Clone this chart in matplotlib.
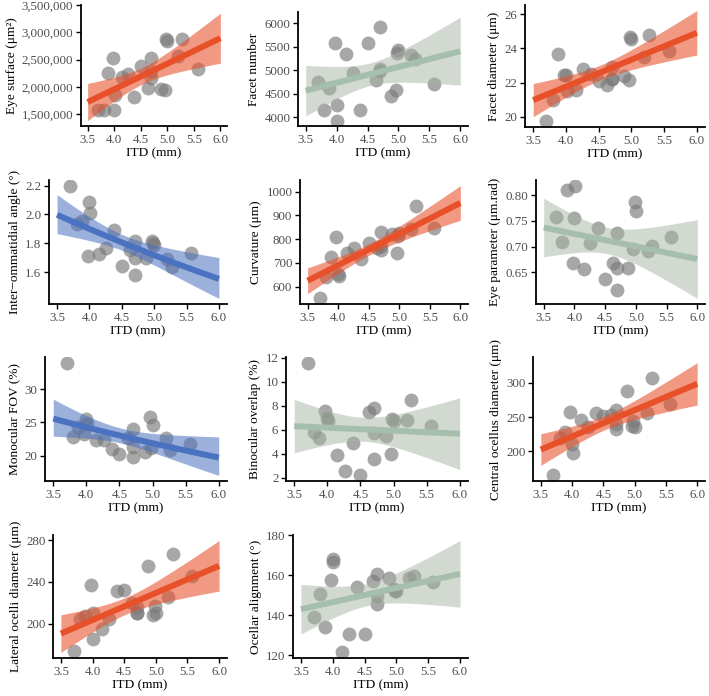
import numpy as np
import matplotlib
matplotlib.use('Agg')
import matplotlib.pyplot as plt
from matplotlib.ticker import FuncFormatter

plt.rcParams['font.family'] = ['Liberation Serif', 'DejaVu Serif']

# ITD (mm) of each specimen, shared by all panels
ITD = [3.70, 3.80, 3.88, 3.97, 4.00, 4.01, 4.15, 4.26, 4.38, 4.50, 4.63,
       4.70, 4.70, 4.70, 4.88, 4.96, 4.98, 5.00, 5.20, 5.27, 5.57]

eye_surface = [1.585e6, 1.585e6, 2.25e6, 2.53e6, 1.58e6, 1.86e6, 2.19e6, 2.24e6,
               1.81e6, 2.39e6, 1.98e6, 2.54e6, 2.16e6, 2.30e6, 1.96e6, 1.95e6,
               2.88e6, 2.85e6, 2.56e6, 2.88e6, 2.33e6]
facet_number = [4747, 4147, 4620, 5587, 4267, 3920, 5353, 4947, 4147, 5587, 4780,
                5920, 5033, 4980, 4453, 4567, 5367, 5433, 5320, 5233, 4700]
facet_diameter = [19.74, 20.98, 23.67, 22.47, 22.45, 21.5, 21.6, 22.77, 22.5, 22.07,
                  21.84, 22.2, 22.2, 22.9, 22.4, 22.13, 24.69, 24.56, 23.47, 24.77, 23.86]
io_angle = [2.20, 1.936, 1.954, 1.71, 2.088, 2.007, 1.728, 1.77, 1.89, 1.64, 1.757,
            1.817, 1.70, 1.578, 1.70, 1.817, 1.80, 1.786, 1.69, 1.634, 1.734]
curvature = [551, 640, 725, 810, 654, 647, 743, 762, 715, 785, 762,
             831, 756, 770, 820, 743, 815, 825, 842, 938, 846]
eye_parameter = [0.757, 0.709, 0.810, 0.667, 0.755, 0.819, 0.657, 0.707, 0.737, 0.637,
                 0.667, 0.727, 0.658, 0.615, 0.659, 0.695, 0.787, 0.770, 0.692, 0.701, 0.718]
monocular_fov = [34.0, 22.8, 24.3, 23.2, 25.5, 24.8, 22.3, 22.4, 21.0, 20.3, 22.6,
                 23.95, 21.3, 19.85, 20.6, 25.85, 21.1, 24.6, 22.6, 20.9, 21.7]
binocular_overlap = [11.6, 5.8, 5.3, 7.6, 7.0, 6.7, 3.9, 2.6, 4.9, 2.2, 7.5,
                     7.8, 5.7, 3.6, 5.5, 3.95, 6.9, 6.75, 6.8, 8.45, 6.35]
central_ocellus = [165, 220, 228, 258, 211, 197, 246, 236, 256, 252, 253,
                   260, 233, 240, 288, 237, 244, 235, 256, 307, 269]
lateral_ocelli = [174, 204, 207, 237, 185, 210, 195, 204, 231, 232, 220,
                  210, 210, 216, 255, 208, 217, 210, 225, 267, 246]
ocellar_alignment = [139.2, 150.8, 134.2, 157.5, 168.2, 166.7, 121.5, 130.8, 154, 130.8,
                     157, 160.8, 149.5, 145.7, 158.7, 153.3, 152, 152.3, 158.7, 159.5, 156.5]

T_CRIT = 2.093  # t(0.975, df=19)

STYLES = {
    'orange': ('#E8502A', '#E8502A', 0.58),
    'blue': ('#4A72C0', '#4A72C0', 0.55),
    'green': ('#A6BEAC', '#A4B4A4', 0.5),
}

TICK_FS = 9.3
LABEL_FS = 9.6

W, H = 709, 696
fig = plt.figure(figsize=(W / 100, H / 100), dpi=100)


def fit_band(x, y, log=False):
    xs = np.linspace(3.5, 6.0, 120)
    yy = np.log(y) if log else y
    X = np.column_stack([np.ones_like(x), x])
    beta = np.linalg.lstsq(X, yy, rcond=None)[0]
    resid = yy - X @ beta
    s2 = resid @ resid / (len(x) - 2)
    cov = np.linalg.inv(X.T @ X) * s2
    Xs = np.column_stack([np.ones_like(xs), xs])
    fit = Xs @ beta
    se = np.sqrt(np.einsum('ij,jk,ik->i', Xs, cov, Xs))
    lo, hi = fit - T_CRIT * se, fit + T_CRIT * se
    if log:
        fit, lo, hi = np.exp(fit), np.exp(lo), np.exp(hi)
    return xs, fit, lo, hi


def panel(rect, values, ylabel, style, yticks, fmt, log=False):
    l, t, r, b = rect
    ax = fig.add_axes([l / W, 1 - b / H, (r - l) / W, (b - t) / H])
    x = np.array(ITD)
    y = np.array(values, dtype=float)
    line_c, band_c, band_a = STYLES[style]
    xs, fit, lo, hi = fit_band(x, y, log)

    ax.scatter(x, y, s=100, color='#7a7a7a', alpha=0.66, lw=0, zorder=2)
    ax.fill_between(xs, lo, hi, color=band_c, alpha=band_a, lw=0, zorder=3)
    ax.plot(xs, fit, color=line_c, lw=4.3, solid_capstyle='butt', zorder=4)

    ymin = min(y.min(), lo.min())
    ymax = max(y.max(), hi.max())
    pad = (ymax - ymin) * 0.05
    ax.set_ylim(ymin - pad, ymax + pad)
    ax.set_xlim(3.375, 6.125)

    ax.set_xticks([3.5, 4.0, 4.5, 5.0, 5.5, 6.0])
    ax.xaxis.set_major_formatter(FuncFormatter(lambda v, p: f'{v:.1f}'))
    ax.set_yticks(yticks)
    ax.yaxis.set_major_formatter(FuncFormatter(fmt))

    for s in ['top', 'right']:
        ax.spines[s].set_visible(False)
    for s in ['left', 'bottom']:
        ax.spines[s].set_linewidth(1.3)
    ax.tick_params(length=3.5, width=1.0, labelsize=TICK_FS, labelcolor='#4d4d4d',
                   pad=2)
    ax.set_xlabel('ITD (mm)', fontsize=LABEL_FS, labelpad=1)
    ax.set_ylabel(ylabel, fontsize=LABEL_FS, labelpad=3)
    return ax


def comma(v, p):
    return f'{v:,.0f}'


def dec0(v, p):
    return f'{v:.0f}'


def dec1(v, p):
    return f'{v:.1f}'


def dec2(v, p):
    return f'{v:.2f}'


panel((81, 5, 227, 126), eye_surface, 'Eye surface (μm²)', 'orange',
      [1.5e6, 2.0e6, 2.5e6, 3.0e6, 3.5e6], comma)
panel((298, 12, 468, 126), facet_number, 'Facet number', 'green',
      [4000, 4500, 5000, 5500, 6000], dec0)
panel((525, 5, 705, 127), facet_diameter, 'Facet diameter (μm)', 'orange',
      [20, 22, 24, 26], dec0)

panel((49, 180, 227, 304), io_angle, 'Inter−ommatidial angle (°)', 'blue',
      [1.6, 1.8, 2.0, 2.2], dec1, log=True)
panel((300, 180, 468, 304), curvature, 'Curvature (μm)', 'orange',
      [600, 700, 800, 900, 1000], dec0)
panel((536, 180, 705, 304), eye_parameter, 'Eye parameter (μm.rad)', 'green',
      [0.65, 0.70, 0.75, 0.80], dec2)

panel((45, 357, 227, 481), monocular_fov, 'Monocular FOV (%)', 'blue',
      [20, 25, 30], dec0, log=True)
panel((286, 357, 468, 481), binocular_overlap, 'Binocular overlap (%)', 'green',
      [2, 4, 6, 8, 10, 12], dec0)
panel((533, 357, 705, 481), central_ocellus, 'Central ocellus diameter (μm)', 'orange',
      [200, 250, 300], dec0)

panel((53, 535, 227, 658), lateral_ocelli, 'Lateral ocelli diameter (μm)', 'orange',
      [200, 240, 280], dec0)
panel((293, 535, 468, 658), ocellar_alignment, 'Ocellar alignment (°)', 'green',
      [120, 140, 160, 180], dec0)

fig.savefig('out.png', dpi=100)
